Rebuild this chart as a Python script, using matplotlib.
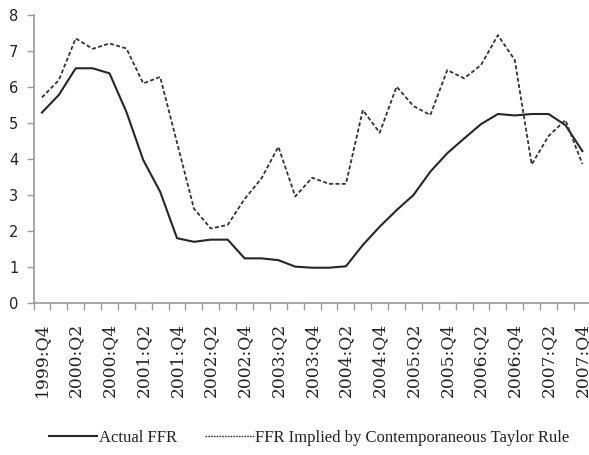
import matplotlib
matplotlib.use("Agg")
import matplotlib.pyplot as plt
import numpy as np

quarters = ["1999:Q4", "2000:Q1", "2000:Q2", "2000:Q3", "2000:Q4", "2001:Q1", "2001:Q2",
            "2001:Q3", "2001:Q4", "2002:Q1", "2002:Q2", "2002:Q3", "2002:Q4", "2003:Q1",
            "2003:Q2", "2003:Q3", "2003:Q4", "2004:Q1", "2004:Q2", "2004:Q3", "2004:Q4",
            "2005:Q1", "2005:Q2", "2005:Q3", "2005:Q4", "2006:Q1", "2006:Q2", "2006:Q3",
            "2006:Q4", "2007:Q1", "2007:Q2", "2007:Q3", "2007:Q4"]

actual_ffr = [5.29, 5.78, 6.52, 6.52, 6.38, 5.31, 3.97, 3.09, 1.80, 1.70, 1.76, 1.76,
              1.24, 1.24, 1.19, 1.01, 0.98, 0.98, 1.02, 1.61, 2.12, 2.58, 3.00, 3.65,
              4.16, 4.57, 4.97, 5.25, 5.21, 5.25, 5.25, 4.94, 4.22]

taylor_ffr = [5.71, 6.19, 7.35, 7.06, 7.21, 7.07, 6.10, 6.28, 4.45, 2.62, 2.07, 2.17,
              2.89, 3.46, 4.34, 2.96, 3.48, 3.31, 3.31, 5.36, 4.73, 6.01, 5.47, 5.22,
              6.47, 6.24, 6.61, 7.44, 6.75, 3.85, 4.64, 5.08, 3.86]

yticks = [0, 1, 2, 3, 4, 5, 6, 7, 8]

fig = plt.figure(figsize=(5.89, 4.55), dpi=100)
ax = fig.add_axes([33.5 / 589, 1 - 303 / 455, 557.3 / 589, (303 - 15) / 455])

x = np.arange(len(quarters))
l1, = ax.plot(x, actual_ffr, color="#262626", lw=1.5, label="Actual FFR")
l2, = ax.plot(x, taylor_ffr, color="#333333", lw=1.3, linestyle=(0, (2.2, 1.3)),
              label="FFR Implied by Contemporaneous Taylor Rule")

ax.set_xlim(-0.5, len(quarters) - 0.5)
ax.set_ylim(0, 8)
ax.set_yticks(yticks)
ax.set_yticklabels([str(v) for v in yticks], fontfamily="DejaVu Sans", fontsize=10.5,
                   color="#222222")

major = x[::2]
ax.set_xticks(major)
ax.set_xticklabels([quarters[i] for i in major], rotation=90, fontfamily="DejaVu Serif",
                   fontsize=12.3, color="#222222", va="top")
ax.set_xticks(np.arange(-0.5, len(quarters), 1.0), minor=True)
ax.tick_params(axis="x", which="major", length=0, pad=14)
ax.tick_params(axis="x", which="minor", length=5, color="#999999", width=1)
ax.tick_params(axis="y", length=5, color="#999999", width=1, pad=6)

for s in ["top", "right"]:
    ax.spines[s].set_visible(False)
for s in ["left", "bottom"]:
    ax.spines[s].set_color("#999999")
    ax.spines[s].set_linewidth(1.2)

leg = fig.legend(handles=[l1, l2], loc="center", bbox_to_anchor=(0.525, 1 - 438 / 455),
                 ncol=2, frameon=False, handlelength=2.9, handletextpad=0.1,
                 columnspacing=1.7,
                 prop={"family": "Liberation Serif", "size": 12})
for t in leg.get_texts():
    t.set_color("#222222")
leg.get_lines()[1].set_linestyle((0, (1.2, 0.8)))
leg.get_lines()[1].set_linewidth(1.0)

fig.savefig("out.png", dpi=100, facecolor="white")
